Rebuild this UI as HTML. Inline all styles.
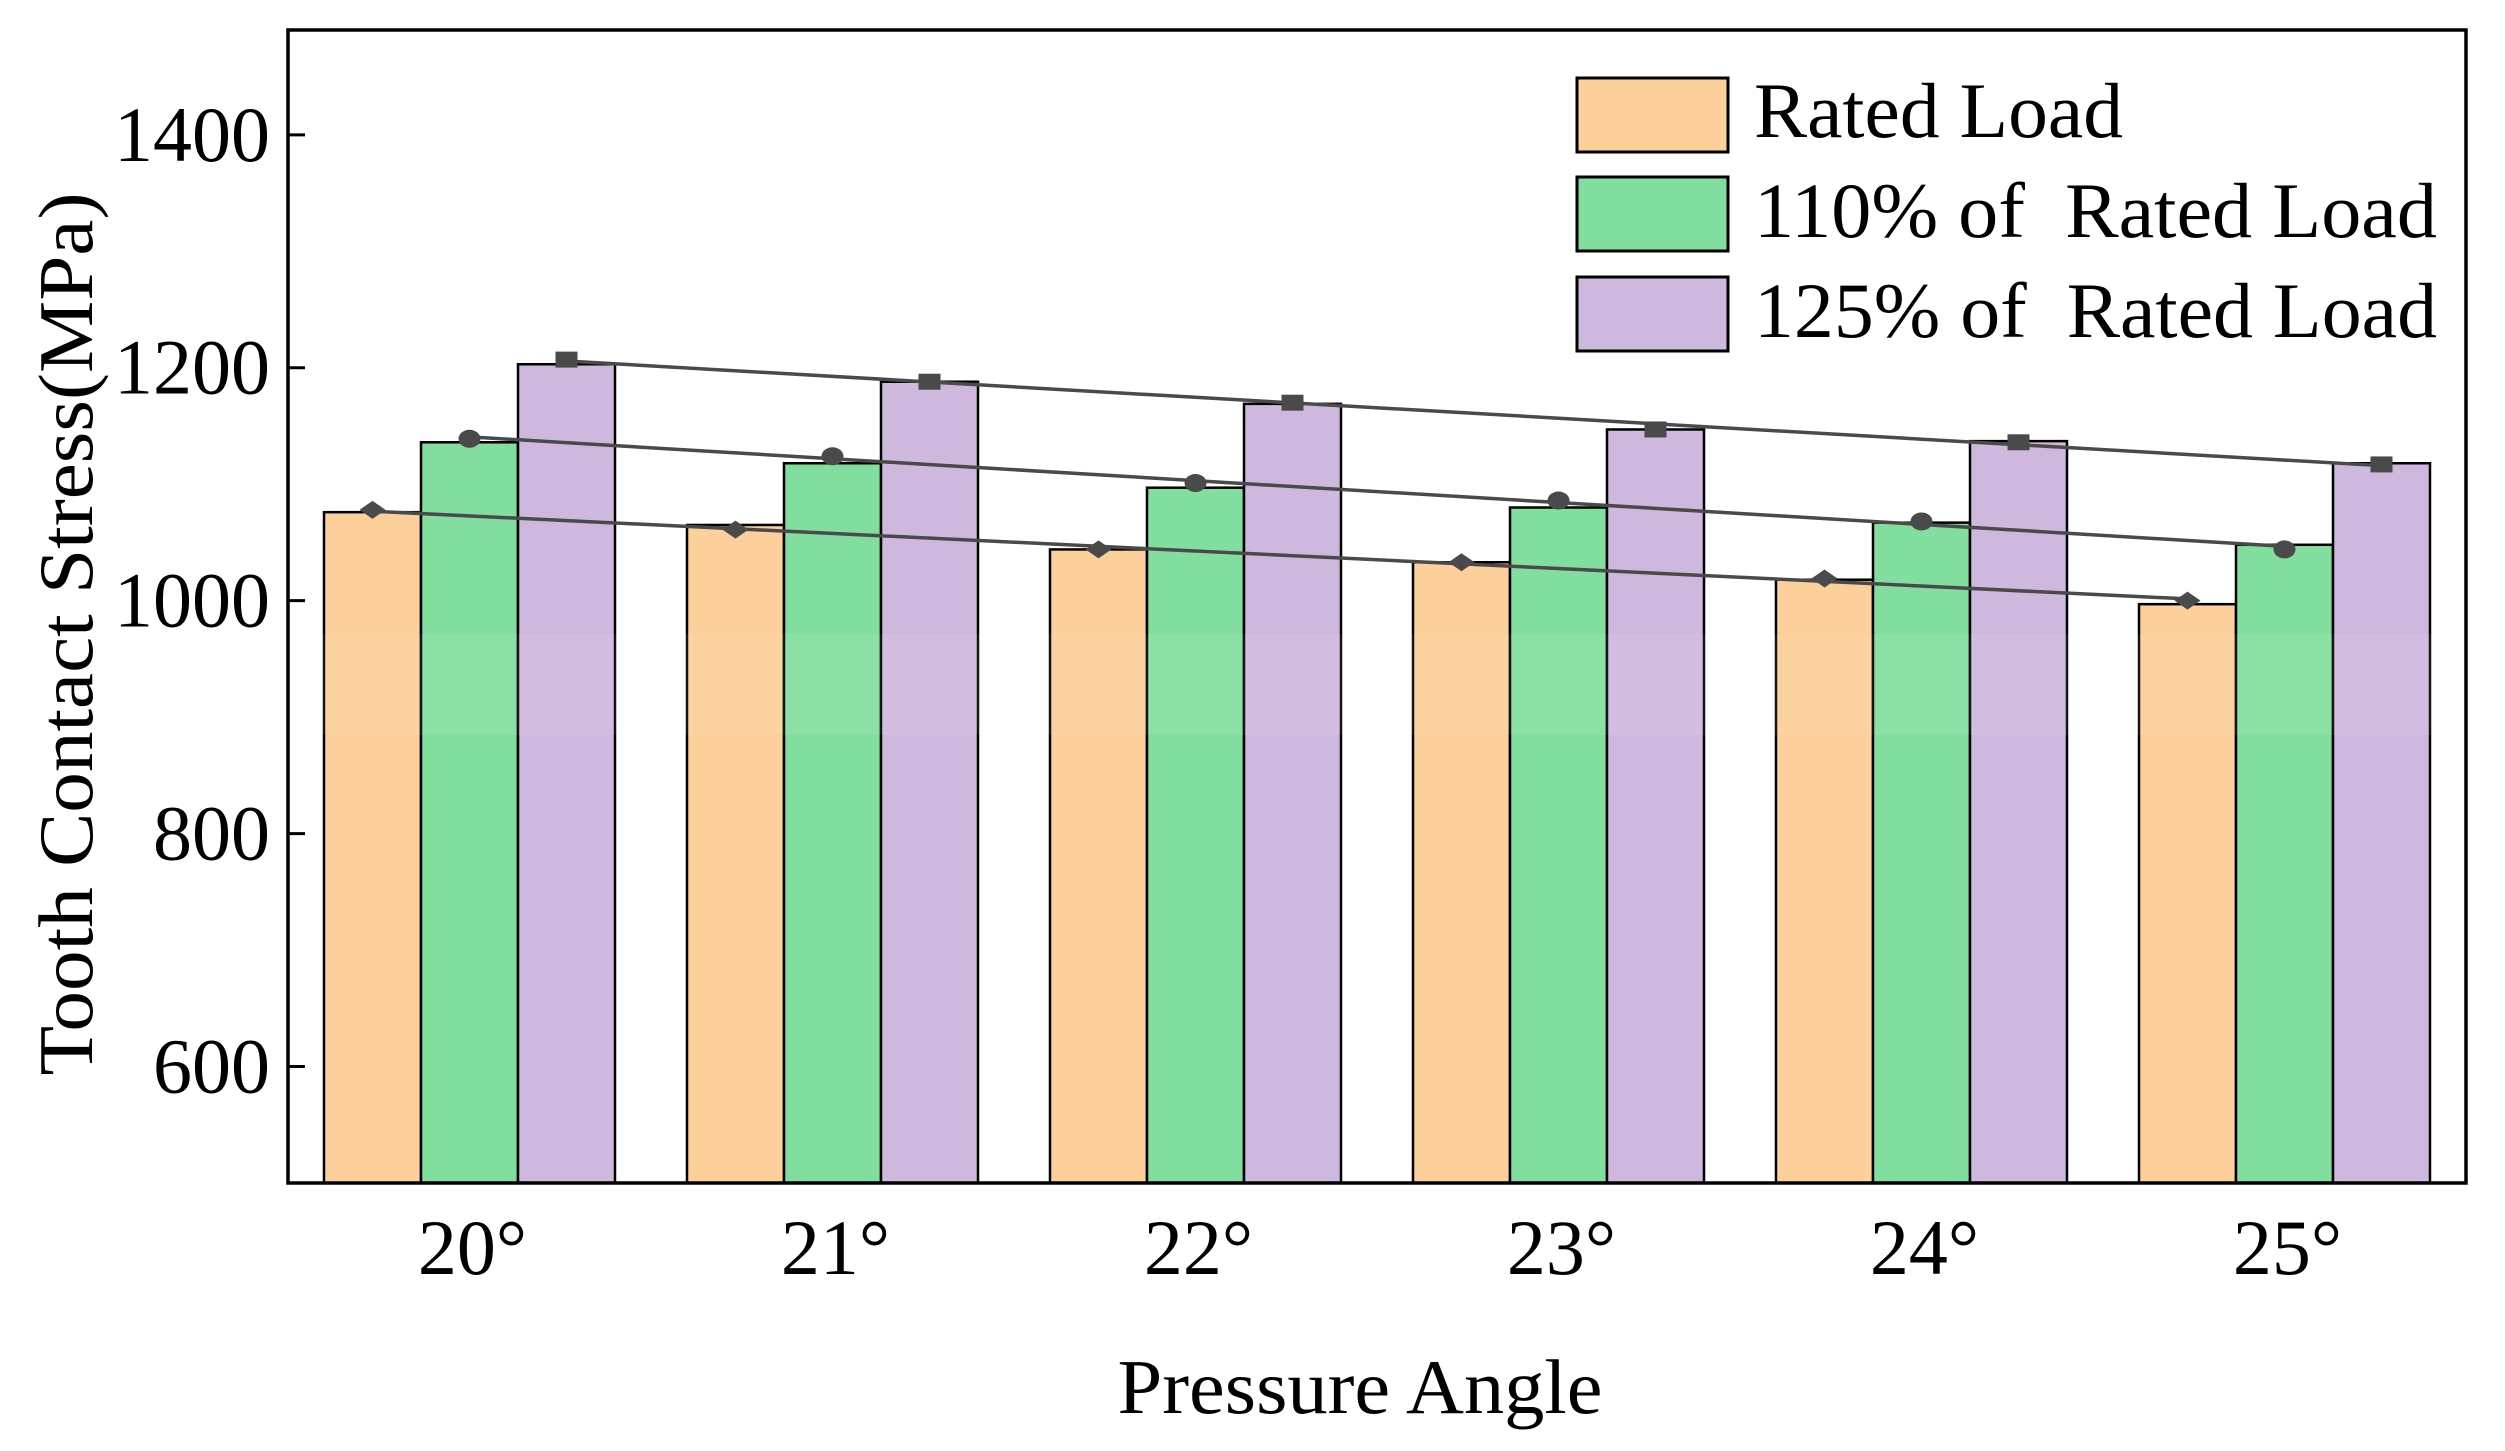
<!DOCTYPE html>
<html><head><meta charset="utf-8"><style>
html,body{margin:0;padding:0;background:#fff}
svg{display:block;font-family:"Liberation Serif",serif}
text{white-space:pre}
</style></head><body>
<svg id="chart" width="2505" height="1451" viewBox="0 0 2505 1451">
<rect width="2505" height="1451" fill="#fff"/>
<g id="bars"></g>
<g id="lines"></g>
<g id="axes"></g>
<g id="legend"></g>
</svg>
<script>
const categories = ["20°","21°","22°","23°","24°","25°"];
const seriesNames = ["Rated Load","110% of  Rated Load","125% of  Rated Load"];
const ratedLoad = [1076,1065,1044,1033,1018,997];
const load110 = [1136,1118,1097,1080,1067,1048];
const load125 = [1203,1188,1169,1147,1137,1118];
const markRated = [1078,1061,1044,1033,1019,1000];
const mark110 = [1139,1124,1101,1086,1068,1044];
const mark125 = [1207,1188,1170,1147,1136,1117];
const yTicks = [600,800,1000,1200,1400];

const NS="http://www.w3.org/2000/svg";
const L=288,R=2466,T=30,B=1183;
const yMin=500, yMax=1490;
function y(v){return B-(v-yMin)/(yMax-yMin)*(B-T);}
const band=(R-L)/categories.length, bw=97;
function xc(i){return L+band*(i+0.5);}
function mk(tag,attrs,parent){const e=document.createElementNS(NS,tag);for(const k in attrs)e.setAttribute(k,attrs[k]);parent.appendChild(e);return e;}
const colors=["#FDCF9A","#82DE9E","#CFB8DE"];
const series=[ratedLoad,load110,load125];
const marks=[markRated,mark110,mark125];
const gb=document.getElementById('bars');
series.forEach((s,k)=>{s.forEach((v,i)=>{
  const x=xc(i)+(k-1)*bw-bw/2;
  const r=mk('rect',{x:x,y:y(v),width:bw,height:B-y(v),fill:colors[k],stroke:"#000","stroke-width":2.5},gb);
  
  
});});
const sheen=mk('rect',{x:L,y:634,width:R-L,height:101,fill:"#fff",opacity:0.08},gb);


const gl=document.getElementById('lines');
marks.forEach((m,k)=>{
  const xs=m.map((v,i)=>xc(i)+(k-1)*bw);
  const n=m.length;let sx=0,sy=0,sxx=0,sxy=0;
  xs.forEach((x,i)=>{sx+=x;sy+=m[i];sxx+=x*x;sxy+=x*m[i];});
  const b=(n*sxy-sx*sy)/(n*sxx-sx*sx), a=(sy-b*sx)/n;
  const ln=mk('line',{x1:xs[0],y1:y(a+b*xs[0]),x2:xs[n-1],y2:y(a+b*xs[n-1]),stroke:"#4a4a4a","stroke-width":3.5},gl);
  
  
  m.forEach((v,i)=>{
    const cx=xs[i],cy=y(v);let e;
    if(k===0)e=mk('polygon',{points:`${cx-13},${cy} ${cx},${cy-9} ${cx+13},${cy} ${cx},${cy+9}`,fill:"#4a4a4a"},gl);
    else if(k===1)e=mk('ellipse',{cx:cx,cy:cy,rx:11,ry:9,fill:"#4a4a4a"},gl);
    else e=mk('rect',{x:cx-11,y:cy-8,width:22,height:16,fill:"#4a4a4a"},gl);
    
    
  });
});
const ga=document.getElementById('axes');
const frame=mk('rect',{x:L,y:T,width:R-L,height:B-T,fill:"none",stroke:"#000","stroke-width":3.5},ga);


yTicks.forEach(t=>{
  const tk=mk('line',{x1:L,x2:L+17,y1:y(t),y2:y(t),stroke:"#000","stroke-width":3},ga);
  
  
  const tx=mk('text',{x:270,y:y(t)+26,"text-anchor":"end","font-size":78},ga);
  tx.textContent=t;
  
  
});
categories.forEach((c,i)=>{
  const tx=mk('text',{x:xc(i)+3,y:1274,"text-anchor":"middle","font-size":78},ga);
  tx.textContent=c;
  
  
});
const xt=mk('text',{x:1360,y:1413,"text-anchor":"middle","font-size":77,textLength:485,lengthAdjust:"spacingAndGlyphs"},ga);
xt.textContent="Pressure Angle";


const yt=mk('text',{x:0,y:0,"text-anchor":"middle","font-size":77,textLength:883,lengthAdjust:"spacingAndGlyphs",transform:"translate(92,634) rotate(-90)"},ga);
yt.textContent="Tooth Contact Stress(MPa)";


const glg=document.getElementById('legend');
const boxY=[78,177,277], baseY=[137,237,337], tl=[369,683,683];
seriesNames.forEach((n,k)=>{
  const r=mk('rect',{x:1577,y:boxY[k],width:151,height:74,fill:colors[k],stroke:"#000","stroke-width":3},glg);
  
  
  const t=mk('text',{x:1754,y:baseY[k],"font-size":78,textLength:tl[k],lengthAdjust:"spacingAndGlyphs"},glg);
  t.textContent=n;
  
  
});
</script>
</body></html>
